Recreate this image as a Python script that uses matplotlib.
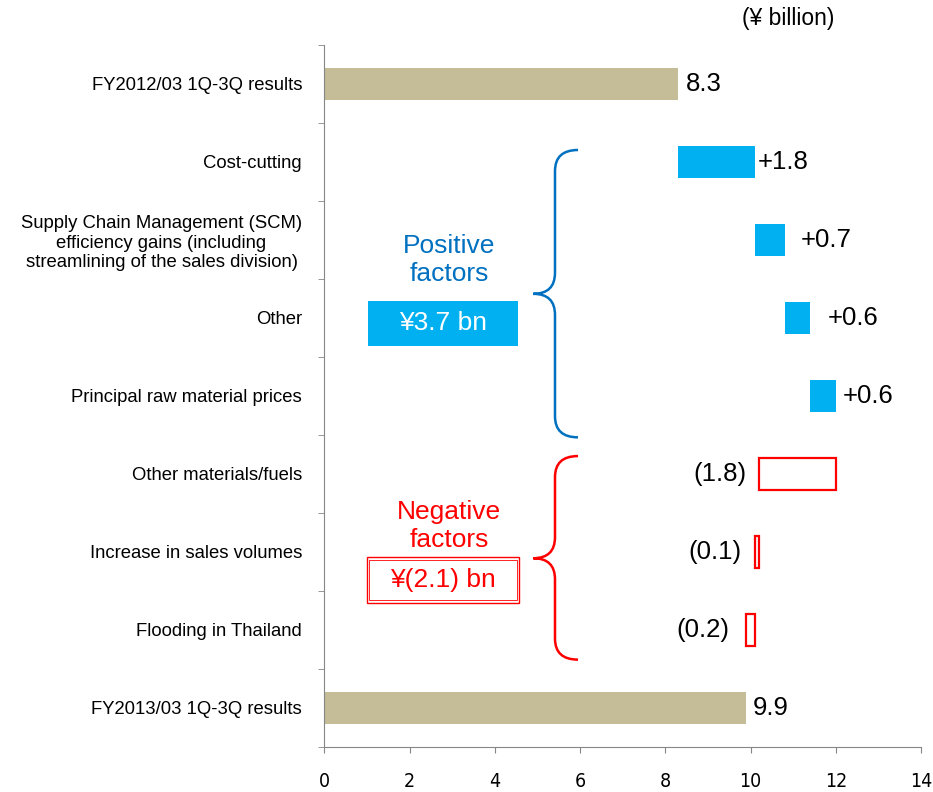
import matplotlib.pyplot as plt
import numpy as np
from matplotlib.path import Path
from matplotlib.patches import PathPatch, Rectangle

plt.rcParams['font.family'] = ['Liberation Sans', 'DejaVu Sans']

# kalemler (yukaridan asagiya)
kategoriler = [
    "FY2012/03 1Q-3Q results",
    "Cost-cutting",
    "Supply Chain Management (SCM)\nefficiency gains (including\nstreamlining of the sales division)",
    "Other",
    "Principal raw material prices",
    "Other materials/fuels",
    "Increase in sales volumes",
    "Flooding in Thailand",
    "FY2013/03 1Q-3Q results",
]
baslangic = 8.3
degisimler = [1.8, 0.7, 0.6, 0.6, -1.8, -0.1, -0.2]
bitis = 9.9
etiket_bosluk = [8, 3, 16, 17, 7, 13, 13, 17, 6]   # px

toplam_arti = "¥3.7 bn"
toplam_eksi = "¥(2.1) bn"

gri = "#868686"
bej = "#C4BD97"
camgobegi = "#00B0F0"
mavi = "#0070C0"
kirmizi = "#FF0000"

fig = plt.figure(figsize=(9.33, 7.92), dpi=100)
ax = fig.add_axes([324.3 / 933, 45 / 792, 597 / 933, 702 / 792])

y = np.arange(len(kategoriler))
h = 0.4

# baslangic ve bitis cubuklari
ax.barh(0, baslangic, height=h, color=bej)
ax.barh(len(kategoriler) - 1, bitis, height=h, color=bej)

def yazi(x, yy, s, bosluk, sag=True):
    px = bosluk * 0.72 if sag else -bosluk * 0.72
    ax.annotate(s, (x, yy), xytext=(px, 0), textcoords="offset points",
                ha="left" if sag else "right", va="center", fontsize=18.5)

yazi(baslangic, 0, f"{baslangic:.1f}", etiket_bosluk[0])
yazi(bitis, len(kategoriler) - 1, f"{bitis:.1f}", etiket_bosluk[-1])

# ara adimlar
kum = baslangic
for i, d in enumerate(degisimler, start=1):
    if d > 0:
        ax.barh(i, d, left=kum, height=h, color=camgobegi)
        yazi(kum + d, i, f"+{d:.1f}", etiket_bosluk[i])
    else:
        ax.barh(i, -d, left=kum + d, height=h, facecolor="none",
                edgecolor=kirmizi, linewidth=1.6)
        yazi(kum + d, i, f"({-d:.1f})", etiket_bosluk[i], sag=False)
    kum += d

# eksenler
ax.set_xlim(0, 14)
ax.set_ylim(8.5, -0.5)
ax.set_xticks(np.arange(0, 15, 2))
ax.set_yticks(y)
ax.set_yticklabels(kategoriler, fontsize=13.3, multialignment="center")
ax.set_yticks(np.arange(-0.5, 9, 1), minor=True)
ax.tick_params(axis="y", which="major", length=0, pad=16)
ax.tick_params(axis="y", which="minor", length=4, color=gri, direction="out")
ax.tick_params(axis="x", length=4, color=gri, pad=14, labelsize=14)
for lbl in ax.get_xticklabels():
    lbl.set_family(["DejaVu Sans"])
    lbl.set_stretch("condensed")
for s in ["top", "right"]:
    ax.spines[s].set_visible(False)
for s in ["left", "bottom"]:
    ax.spines[s].set_color(gri)

# suslu parantez
def parantez(y_ust, y_uc, y_alt, renk):
    xu, xd, xs = 4.90, 5.41, 5.95
    r = 0.27
    verts = [(xs, y_ust), (xd, y_ust), (xd, y_ust + r),
             (xd, y_uc - r),
             (xd, y_uc), (xu, y_uc),
             (xd, y_uc), (xd, y_uc + r),
             (xd, y_alt - r),
             (xd, y_alt), (xs, y_alt)]
    codes = [Path.MOVETO, Path.CURVE3, Path.CURVE3,
             Path.LINETO,
             Path.CURVE3, Path.CURVE3,
             Path.CURVE3, Path.CURVE3,
             Path.LINETO,
             Path.CURVE3, Path.CURVE3]
    ax.add_patch(PathPatch(Path(verts, codes), facecolor="none",
                           edgecolor=renk, linewidth=1.8, clip_on=False))

parantez(0.846, 2.69, 4.53, mavi)
parantez(4.77, 6.08, 7.38, kirmizi)

# grup yazilari
ax.text(2.93, 2.26, "Positive\nfactors", color=mavi, fontsize=19,
        ha="center", va="center", linespacing=1.2)
ax.add_patch(Rectangle((1.03, 2.78), 3.52, 0.58, facecolor=camgobegi,
                       edgecolor="none"))
ax.text(2.79, 3.07, toplam_arti, color="white", fontsize=19,
        ha="center", va="center")

ax.text(2.93, 5.67, "Negative\nfactors", color=kirmizi, fontsize=19,
        ha="center", va="center", linespacing=1.2)
ax.add_patch(Rectangle((1.0, 6.06), 3.57, 0.6, facecolor="none",
                       edgecolor=kirmizi, linewidth=1.0))
ax.add_patch(Rectangle((1.05, 6.1), 3.47, 0.52, facecolor="none",
                       edgecolor=kirmizi, linewidth=0.6))
ax.text(2.79, 6.36, toplam_eksi, color=kirmizi, fontsize=19,
        ha="center", va="center")

fig.text(788 / 933, 1 - 19 / 792, "(¥ billion)", fontsize=16.5,
         ha="center", va="center")

fig.savefig("out.png", dpi=100)
